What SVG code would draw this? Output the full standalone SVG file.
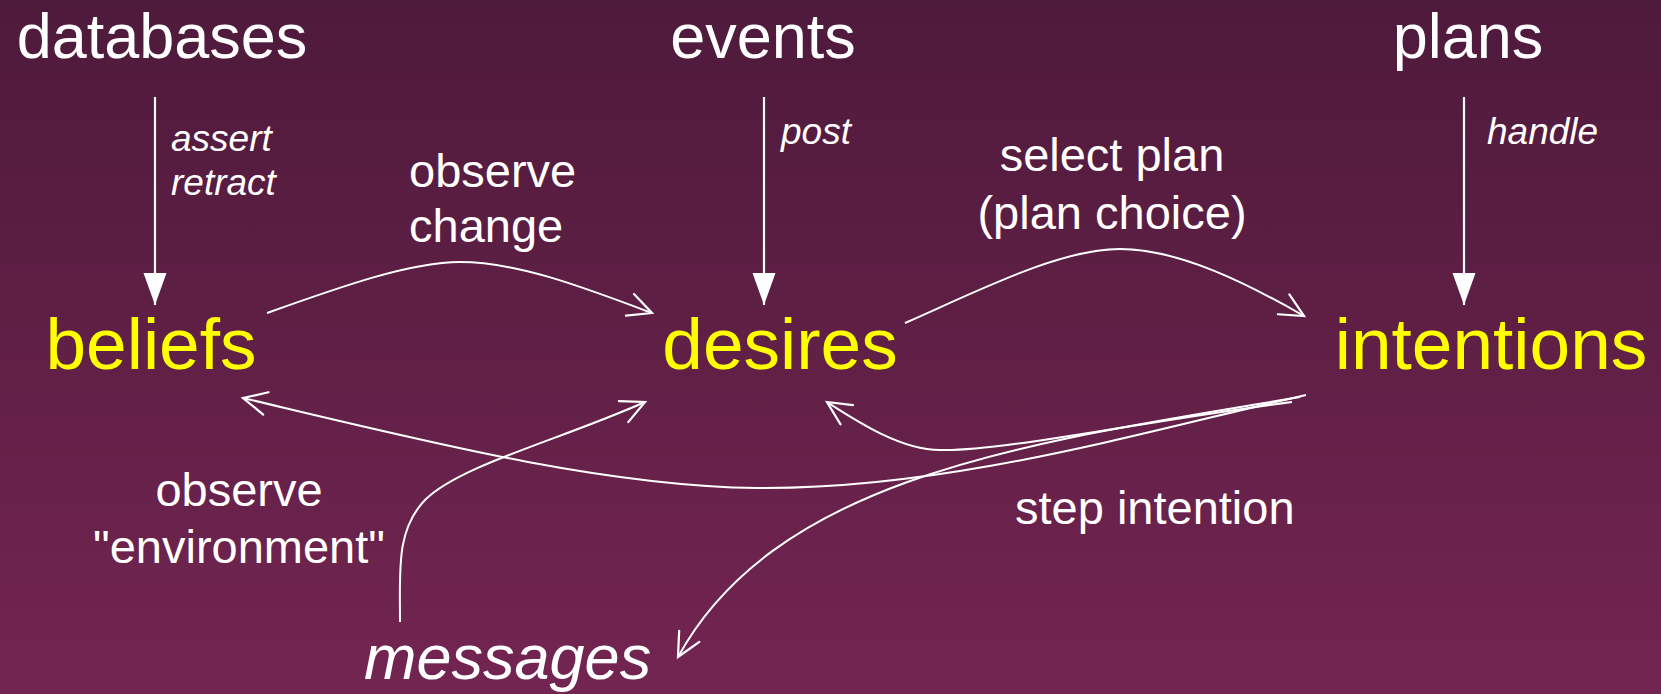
<svg xmlns="http://www.w3.org/2000/svg" width="1661" height="694" viewBox="0 0 1661 694">
  <defs>
    <linearGradient id="bg" x1="0" y1="0" x2="0" y2="1">
      <stop offset="0" stop-color="#4e1a3b"/>
      <stop offset="1" stop-color="#732551"/>
    </linearGradient>
    <!-- filled head for the straight source arrows -->
    <marker id="solid" markerUnits="userSpaceOnUse" markerWidth="40" markerHeight="30" refX="32" refY="11.5" orient="auto">
      <path d="M0,0 L32,11.5 L0,23 Z" fill="#ffffff"/>
    </marker>
    <!-- open V head for the curved flow arrows -->
    <marker id="open" markerUnits="userSpaceOnUse" markerWidth="34" markerHeight="34" refX="27" refY="13" orient="auto">
      <path d="M3.5,1.5 L27,13 L3.5,24.5" fill="none" stroke="#ffffff" stroke-width="2.2" stroke-linecap="round" stroke-linejoin="miter"/>
    </marker>
    <style>
      .src { font-family: "Liberation Sans", Arial, sans-serif; font-size: 63px; fill: #ffffff; text-anchor: middle; }
      .state { font-family: "Liberation Sans", Arial, sans-serif; font-size: 73px; fill: #ffff00; text-anchor: middle; }
      .op { font-family: "Liberation Sans", Arial, sans-serif; font-size: 37px; font-style: italic; fill: #ffffff; }
      .lbl { font-family: "Liberation Sans", Arial, sans-serif; font-size: 47px; fill: #ffffff; }
      .msg { font-family: "Liberation Sans", Arial, sans-serif; font-size: 63px; font-style: italic; fill: #ffffff; }
      .feed { fill: none; stroke: #ffffff; stroke-width: 2.2; }
      .curve { fill: none; stroke: #ffffff; stroke-width: 2; marker-end: url(#open); }
    </style>
  </defs>

  <rect x="0" y="0" width="1661" height="694" fill="url(#bg)"/>

  <!-- sources -->
  <g id="databases"><text class="src" x="162" y="58">databases</text></g>
  <g id="events"><text class="src" x="763" y="58">events</text></g>
  <g id="plans"><text class="src" x="1468" y="58">plans</text></g>

  <!-- mental state -->
  <g id="beliefs"><text class="state" x="151" y="369">beliefs</text></g>
  <g id="desires"><text class="state" x="780" y="369">desires</text></g>
  <g id="intentions"><text class="state" x="1491" y="369">intentions</text></g>

  <g id="messages"><text class="msg" x="364" y="679">messages</text></g>

  <!-- connectors -->
  <g id="connectors">
    <line class="feed" x1="155" y1="97" x2="155" y2="305" marker-end="url(#solid)"/>
    <line class="feed" x1="764" y1="97" x2="764" y2="305" marker-end="url(#solid)"/>
    <line class="feed" x1="1464" y1="97" x2="1464" y2="305" marker-end="url(#solid)"/>

    <!-- beliefs to desires -->
    <path class="curve" d="M267,313 C340,287 410,262 460,262 C520,262 590,290 652,313"/>
    <!-- desires to intentions -->
    <path class="curve" d="M905,323 C980,290 1060,249 1120,249 C1180,249 1250,285 1304,316"/>
    <!-- intentions back to beliefs -->
    <path class="curve" d="M1306,395 C1150,430 950,490 757,488 C600,486 420,440 243,398"/>
    <!-- intentions back to desires -->
    <path class="curve" d="M1292,402 C1150,420 1000,452 940,450 C900,450 855,420 827,402"/>
    <!-- intentions out to messages -->
    <path class="curve" d="M1300,397 C1050,440 780,470 678,657"/>
    <!-- messages in to desires -->
    <path class="curve" d="M400,622 C400,570 396,530 425,500 C460,465 560,440 645,402"/>
  </g>

  <!-- connector labels -->
  <g id="labels">
    <text class="op" x="171" y="151">assert</text>
    <text class="op" x="171" y="195">retract</text>
    <text class="op" x="781" y="144">post</text>
    <text class="op" x="1487" y="144">handle</text>
    <text class="lbl" x="409" y="187">observe</text>
    <text class="lbl" x="409" y="242">change</text>
    <text class="lbl" x="1112" y="171" text-anchor="middle">select plan</text>
    <text class="lbl" x="1112" y="229" text-anchor="middle">(plan choice)</text>
    <text class="lbl" x="239" y="506" text-anchor="middle">observe</text>
    <text class="lbl" x="239" y="563" text-anchor="middle">"environment"</text>
    <text class="lbl" x="1015" y="524">step intention</text>
  </g>
</svg>
